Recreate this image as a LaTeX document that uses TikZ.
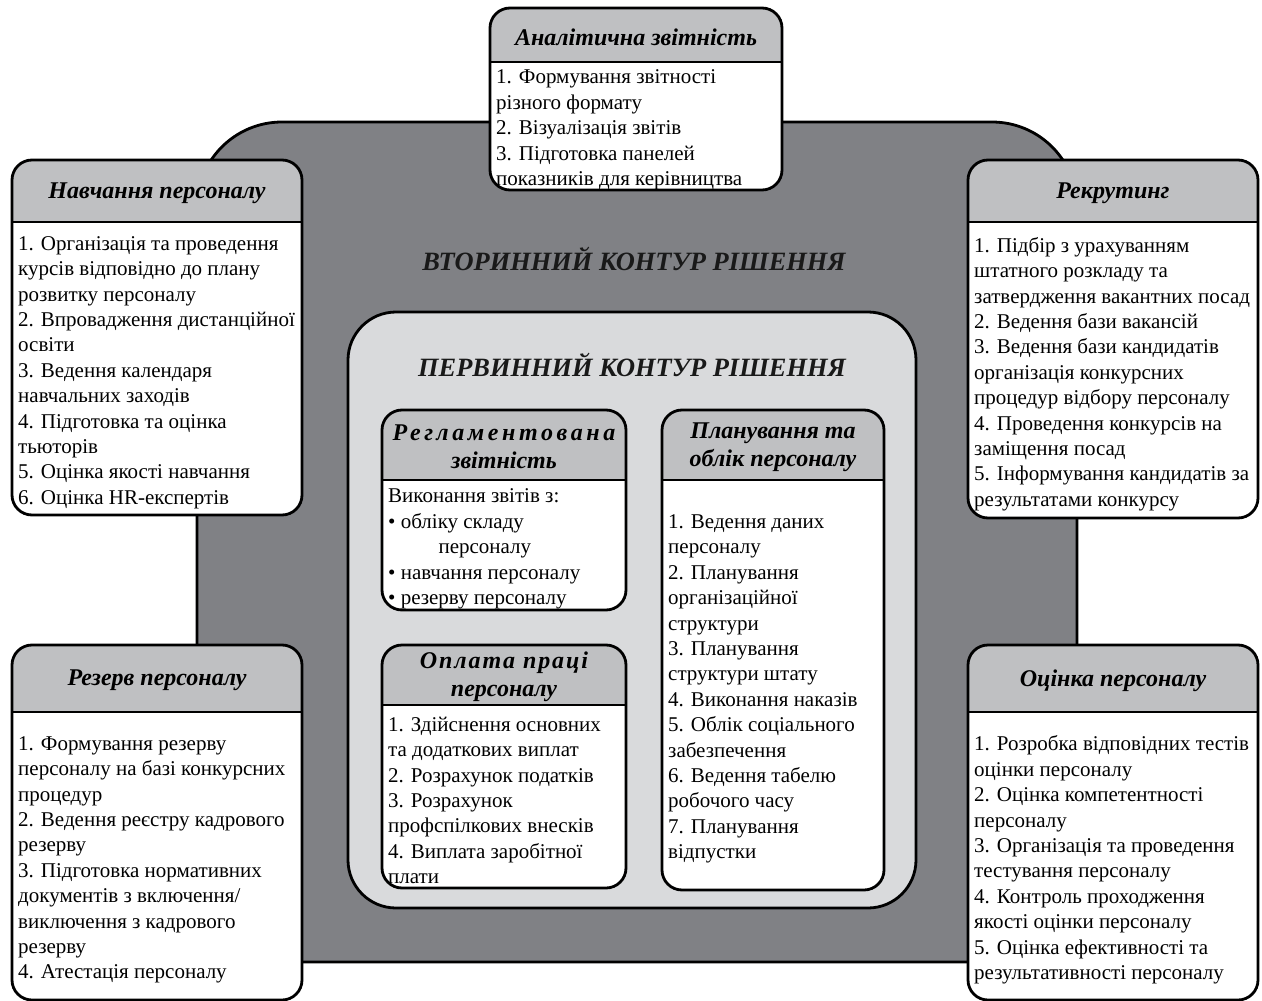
\documentclass[tikz,border=0pt]{standalone}
\usepackage{fontspec}
\setmainfont{Liberation Serif}
\usetikzlibrary{positioning}
\usepackage{xcolor}

\definecolor{outergray}{RGB}{128,129,133}
\definecolor{innergray}{RGB}{217,218,220}
\definecolor{headgray}{RGB}{191,192,194}

% card: name, x, y, width, height, header height, title, body
\newcommand{\hrcard}[8]{%
  \node (#1) [card, minimum width=#4pt, minimum height=#5pt] at (#2,#3) {};
  \begin{scope}
    \clip [rounded corners=20pt] (#1.south west) rectangle (#1.north east);
    \fill [headgray] (#1.north west) rectangle ({#2+#4},{#3+#6});
  \end{scope}
  \draw [line width=2.4pt] (#2,{#3+#6}) -- ({#2+#4},{#3+#6});
  \draw [line width=2.8pt, rounded corners=20pt] (#1.south west) rectangle (#1.north east);
  \node (#1title) [cardtitle] at ({#2+#4/2},{#3+#6/2+2}) {#7};
  \node (#1body) [cardbody] at ({#2+6},{#3+(#5+#6)/2+4}) {#8};
}
\newcommand{\spread}[2]{{\addfontfeature{LetterSpace=#1}#2}}

\begin{document}
\begin{tikzpicture}[x=1pt, y=-1pt]
    \tikzstyle{secondary} = [rectangle, rounded corners=85pt, fill=outergray, draw=black, line width=2.8pt, minimum width=880pt, minimum height=840pt]
    \tikzstyle{primary} = [rectangle, rounded corners=48pt, fill=innergray, draw=black, line width=2.8pt, minimum width=568pt, minimum height=596pt]
    \tikzstyle{level} = [font=\fontsize{26.4}{30}\selectfont\bfseries\itshape, text=black!90]
    \tikzstyle{card} = [rectangle, rounded corners=20pt, fill=white, inner sep=0pt, outer sep=0pt, anchor=north west]
    \tikzstyle{cardtitle} = [font=\fontsize{24}{28}\selectfont\bfseries\itshape, align=center, inner sep=0pt]
    \tikzstyle{cardbody} = [font=\fontsize{21}{25.4}\selectfont, align=left, anchor=west, inner sep=0pt]

    \useasboundingbox (0,0) rectangle (1262,1001);

    % contours
    \node (outer) [secondary] at (637,542) {};
    \node (inner) [primary] at (632,610) {};
    \node (outertitle) [level] at (634,259) {ВТОРИННИЙ КОНТУР РІШЕННЯ};
    \node (innertitle) [level] at (632,365) {ПЕРВИННИЙ КОНТУР РІШЕННЯ};

    % secondary contour
    \hrcard{anal}{490}{8}{292}{182}{54}{Аналітична звітність}
      {1. Формування звітності\\різного формату\\2. Візуалізація звітів\\3. Підготовка панелей\\показників для керівництва}
    \hrcard{train}{12}{160}{290}{355}{62}{Навчання персоналу}
      {1. Організація та проведення\\курсів відповідно до плану\\розвитку персоналу\\2. Впровадження дистанційної\\освіти\\3. Ведення календаря\\навчальних заходів\\4. Підготовка та оцінка\\тьюторів\\5. Оцінка якості навчання\\6. Оцінка HR-експертів}
    \hrcard{recr}{968}{160}{290}{358}{62}{Рекрутинг}
      {1. Підбір з урахуванням\\штатного розкладу та\\затвердження вакантних посад\\2. Ведення бази вакансій\\3. Ведення бази кандидатів\\організація конкурсних\\процедур відбору персоналу\\4. Проведення конкурсів на\\заміщення посад\\5. Інформування кандидатів за\\результатами конкурсу}
    \hrcard{reserve}{12}{645}{290}{355}{67}{Резерв персоналу}
      {1. Формування резерву\\персоналу на базі конкурсних\\процедур\\2. Ведення реєстру кадрового\\резерву\\3. Підготовка нормативних\\документів з включення/\\виключення з кадрового\\резерву\\4. Атестація персоналу}
    \hrcard{assess}{968}{645}{290}{355}{67}{Оцінка персоналу}
      {1. Розробка відповідних тестів\\оцінки персоналу\\2. Оцінка компетентності\\персоналу\\3. Організація та проведення\\тестування персоналу\\4. Контроль проходження\\якості оцінки персоналу\\5. Оцінка ефективності та\\результативності персоналу}

    % primary contour
    \hrcard{report}{382}{410}{244}{200}{70}{\spread{15}{Регламентована}\\звітність}
      {Виконання звітів з:\\\textbullet\ обліку складу\\\hspace*{2.4em}персоналу\\\textbullet\ навчання персоналу\\\textbullet\ резерву персоналу}
    \hrcard{pay}{382}{645}{244}{243}{60}{\spread{8}{Оплата праці}\\персоналу}
      {1. Здійснення основних\\та додаткових виплат\\2. Розрахунок податків\\3. Розрахунок\\профспілкових внесків\\4. Виплата заробітної\\плати}
    \hrcard{plan}{662}{410}{222}{480}{70}{Планування та\\облік персоналу}
      {1. Ведення даних\\персоналу\\2. Планування\\організаційної\\структури\\3. Планування\\структури штату\\4. Виконання наказів\\5. Облік соціального\\забезпечення\\6. Ведення табелю\\робочого часу\\7. Планування\\відпустки}
\end{tikzpicture}
\end{document}
